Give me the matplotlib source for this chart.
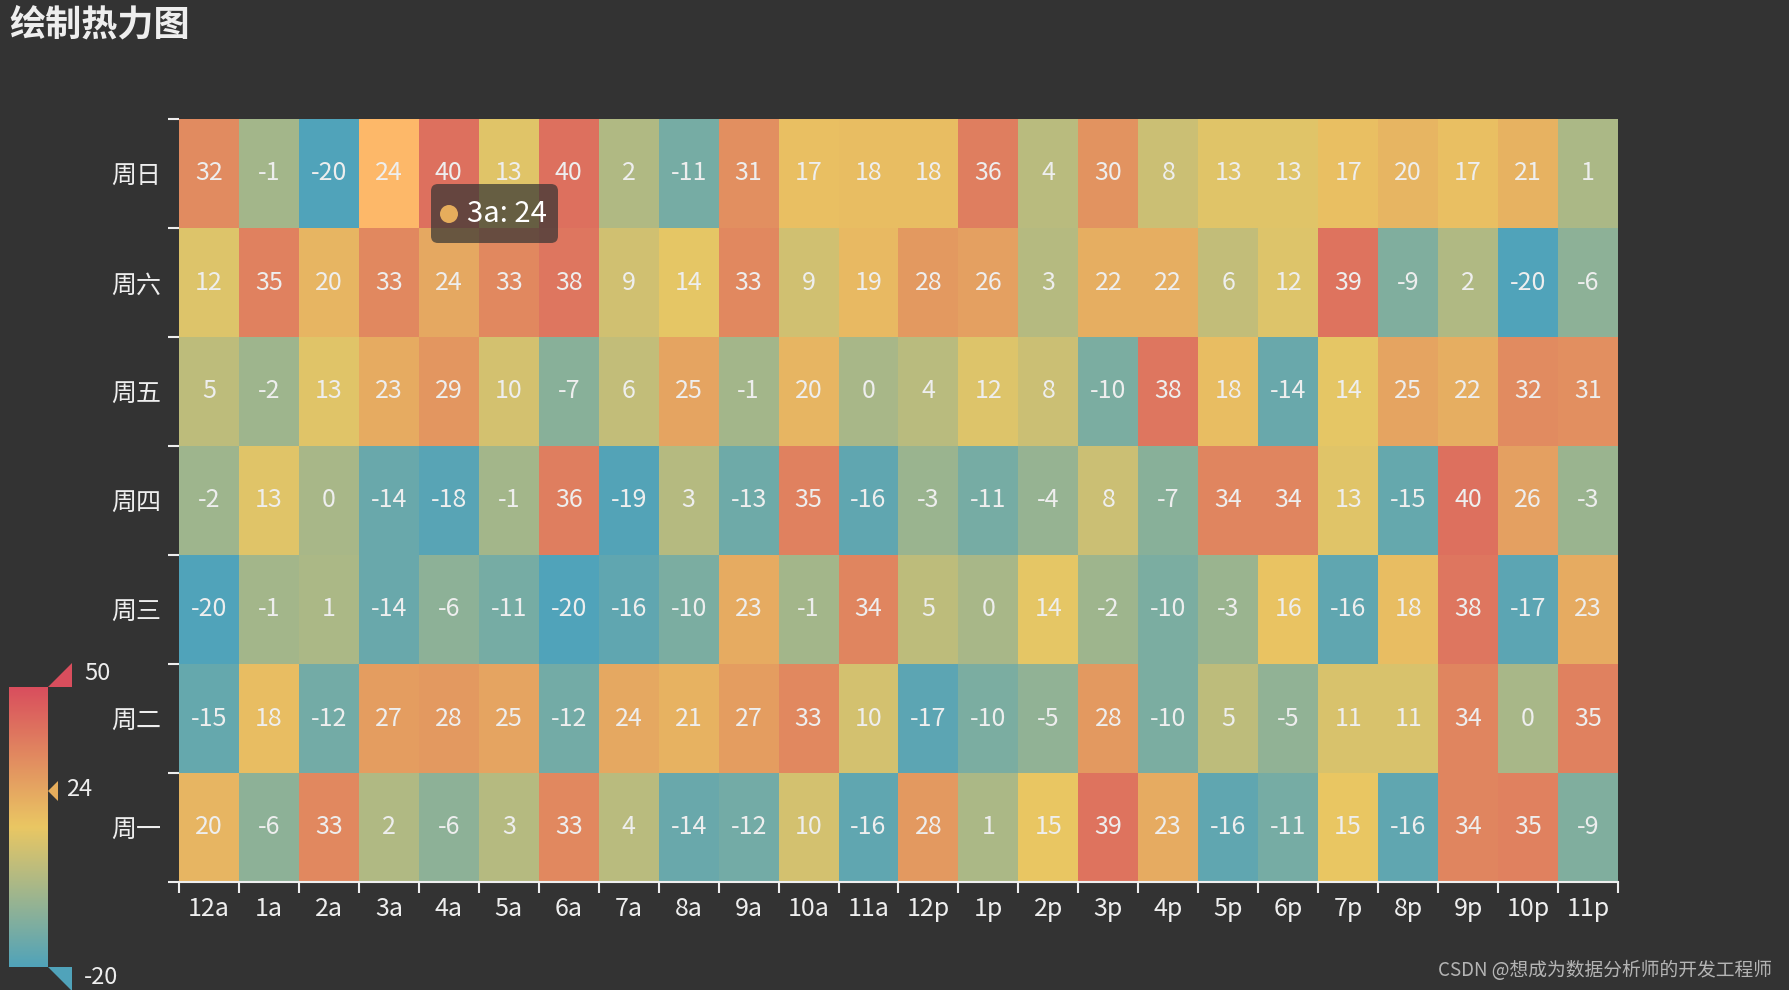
import numpy as np
import matplotlib
matplotlib.use('Agg')
import matplotlib.pyplot as plt
from matplotlib.colors import LinearSegmentedColormap, Normalize
from matplotlib.patches import Rectangle, Polygon, FancyBboxPatch, Circle

plt.rcParams['font.family'] = ['Noto Sans CJK SC', 'DejaVu Sans']

hours = ['12a', '1a', '2a', '3a', '4a', '5a', '6a', '7a', '8a', '9a', '10a', '11a',
         '12p', '1p', '2p', '3p', '4p', '5p', '6p', '7p', '8p', '9p', '10p', '11p']
days = ['周一', '周二', '周三', '周四', '周五', '周六', '周日']

mon = [20, -6, 33, 2, -6, 3, 33, 4, -14, -12, 10, -16, 28, 1, 15, 39, 23, -16, -11, 15, -16, 34, 35, -9]
tue = [-15, 18, -12, 27, 28, 25, -12, 24, 21, 27, 33, 10, -17, -10, -5, 28, -10, 5, -5, 11, 11, 34, 0, 35]
wed = [-20, -1, 1, -14, -6, -11, -20, -16, -10, 23, -1, 34, 5, 0, 14, -2, -10, -3, 16, -16, 18, 38, -17, 23]
thu = [-2, 13, 0, -14, -18, -1, 36, -19, 3, -13, 35, -16, -3, -11, -4, 8, -7, 34, 34, 13, -15, 40, 26, -3]
fri = [5, -2, 13, 23, 29, 10, -7, 6, 25, -1, 20, 0, 4, 12, 8, -10, 38, 18, -14, 14, 25, 22, 32, 31]
sat = [12, 35, 20, 33, 24, 33, 38, 9, 14, 33, 9, 19, 28, 26, 3, 22, 22, 6, 12, 39, -9, 2, -20, -6]
sun = [32, -1, -20, 24, 40, 13, 40, 2, -11, 31, 17, 18, 18, 36, 4, 30, 8, 13, 13, 17, 20, 17, 21, 1]

vmin, vmax = -20, 50
hover_hour, hover_day = '3a', '周日'

data = np.array([mon, tue, wed, thu, fri, sat, sun])

bg = '#333333'
txt = '#eeeeee'
cmap = LinearSegmentedColormap.from_list('vm', ['#50a3ba', '#eac763', '#d94e5d'])
norm = Normalize(vmin, vmax)

W, H = 1789, 990
fig = plt.figure(figsize=(W / 100, H / 100), dpi=100, facecolor=bg)

# heatmap
ax = fig.add_axes([179 / W, 1 - 882 / H, 1439 / W, 763 / H])
ax.set_facecolor(bg)
ax.imshow(data, cmap=cmap, norm=norm, aspect='auto', origin='lower',
          extent=(-0.5, len(hours) - 0.5, -0.5, len(days) - 0.5), interpolation='nearest')

# emphasis on hovered cell
hx, hy = hours.index(hover_hour), days.index(hover_day)
ax.add_patch(Rectangle((hx - 0.5, hy - 0.5), 1, 1, facecolor='#fdb869', edgecolor='none'))

for i in range(len(days)):
    for j in range(len(hours)):
        ax.text(j, i, str(data[i, j]), ha='center', va='center', color=txt, fontsize=18)

ax.set_xlim(-0.5, len(hours) - 0.5)
ax.set_ylim(-0.5, len(days) - 0.5)
ax.set_xticks(np.arange(len(hours) + 1) - 0.5, minor=True)
ax.set_yticks(np.arange(len(days) + 1) - 0.5, minor=True)
ax.set_xticks(np.arange(len(hours)))
ax.set_yticks(np.arange(len(days)))
ax.set_xticklabels(hours, color=txt, fontsize=18)
ax.set_yticklabels(days, color=txt, fontsize=18)
ax.tick_params(which='major', length=0, pad=10)
ax.tick_params(axis='y', which='major', pad=13)
ax.tick_params(which='minor', length=8, width=1.5, color=txt)
for s in ['top', 'right', 'left']:
    ax.spines[s].set_visible(False)
ax.spines['bottom'].set_color(txt)
ax.spines['bottom'].set_linewidth(1.5)

# overlay in pixel coordinates for visual map, title, tooltip
ov = fig.add_axes([0, 0, 1, 1])
ov.set_xlim(0, W)
ov.set_ylim(H, 0)
ov.axis('off')
ov.patch.set_alpha(0)

bx0, bx1, by0, by1 = 9, 48, 687, 967
grad = np.linspace(vmax, vmin, 256).reshape(-1, 1)
ov.imshow(grad, cmap=cmap, norm=norm, aspect='auto', extent=(bx0, bx1, by1, by0), zorder=2)
ov.set_xlim(0, W)
ov.set_ylim(H, 0)
ov.add_patch(Polygon([(bx1, by0), (bx1 + 24, by0), (bx1 + 24, by0 - 24)], closed=True,
                     facecolor=cmap(norm(vmax)), edgecolor='none'))
ov.add_patch(Polygon([(bx1, by1), (bx1 + 24, by1), (bx1 + 24, by1 + 24)], closed=True,
                     facecolor=cmap(norm(vmin)), edgecolor='none'))
ov.text(84, by0 - 14, str(vmax), color=txt, fontsize=17, va='center', ha='left')
ov.text(84, by1 + 10, str(vmin), color=txt, fontsize=17, va='center', ha='left')

hover_val = data[hy, hx]
iy = by0 + (vmax - hover_val) / (vmax - vmin) * (by1 - by0)
ov.add_patch(Polygon([(bx1, iy), (bx1 + 10, iy - 10), (bx1 + 10, iy + 10)], closed=True,
                     facecolor='#e6ad5c', edgecolor='none'))
ov.text(66, iy - 2, str(hover_val), color=txt, fontsize=17, va='center', ha='left')

# title
ov.text(9, 25, '绘制热力图', color=txt, fontsize=26, fontweight='bold', va='center', ha='left')

# tooltip
ov.add_patch(FancyBboxPatch((431, 184), 127, 59, boxstyle='round,pad=0,rounding_size=7',
                            facecolor=(0.2, 0.2, 0.2, 0.7), edgecolor='none', zorder=5))
ov.add_patch(Circle((449, 214), 9, facecolor='#e6ad5c', edgecolor='none', zorder=6))
ov.text(467, 214, f'{hover_hour}: {hover_val}', color='white', fontsize=21,
        va='center', ha='left', zorder=6)

# watermark
ov.text(1772, 971, 'CSDN @想成为数据分析师的开发工程师', color='#cccccc', alpha=0.85,
        fontsize=13.5, va='center', ha='right')

fig.savefig('out.png', dpi=100, facecolor=bg)
